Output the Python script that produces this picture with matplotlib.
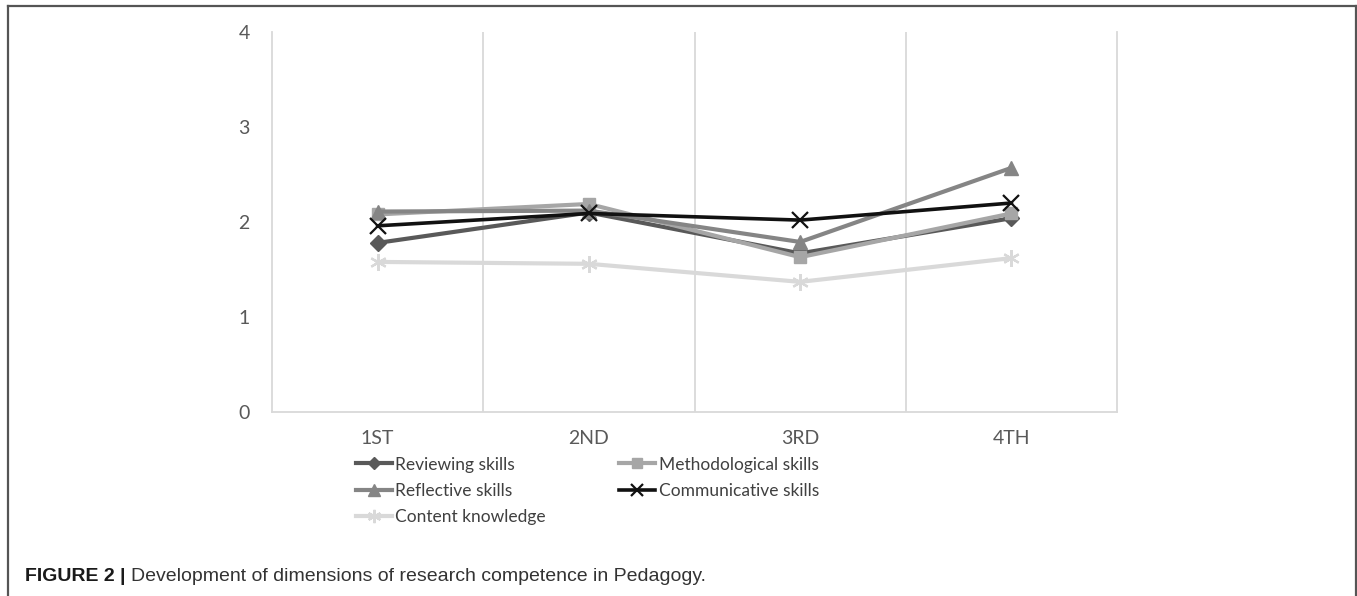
import matplotlib.pyplot as plt
from matplotlib.lines import Line2D

years = ["1ST", "2ND", "3RD", "4TH"]

reviewing = [1.78, 2.10, 1.67, 2.04]
methodological = [2.08, 2.19, 1.63, 2.09]
reflective = [2.11, 2.12, 1.79, 2.57]
communicative = [1.96, 2.09, 2.02, 2.20]
content = [1.58, 1.56, 1.37, 1.62]

series = [
    ("Reviewing skills", reviewing, "#595959", "D", 8, 3.0),
    ("Methodological skills", methodological, "#a6a6a6", "s", 9, 3.0),
    ("Reflective skills", reflective, "#858585", "^", 10, 3.0),
    ("Communicative skills", communicative, "#111111", "x", 11, 2.6),
    ("Content knowledge", content, "#d9d9d9", (6, 2, 0), 12, 3.0),
]

plt.rcParams["font.family"] = ["Lato", "DejaVu Sans"]

fig = plt.figure(figsize=(13.57, 5.96), dpi=100)
ax = fig.add_axes([0.2004, 0.3087, 0.6228, 0.6376])

x = range(len(years))
handles = {}
for name, vals, color, marker, ms, lw in series:
    mew = 1.6 if marker in ("x", (6, 2, 0)) else 1
    ln, = ax.plot(x, vals, color=color, lw=lw, marker=marker, ms=ms,
                  mew=mew, mec=color, mfc=color, solid_joinstyle="round")
    handles[name] = ln

ax.set_xlim(-0.5, len(years) - 0.5)
ax.set_ylim(0, 4)
ax.set_yticks([0, 1, 2, 3, 4])
ax.set_xticks(list(x))
ax.set_xticklabels(years)

# vertical separators between categories
for b in [0.5, 1.5, 2.5]:
    ax.axvline(b, color="#d9d9d9", lw=1.3, zorder=0)

for side in ["left", "right", "bottom"]:
    ax.spines[side].set_color("#d9d9d9")
    ax.spines[side].set_linewidth(1.3)
ax.spines["top"].set_visible(False)
ax.tick_params(length=0, labelsize=14, colors="#595959")
ax.tick_params(axis="y", pad=16)
ax.tick_params(axis="x", pad=13)

# legend laid out row-wise, two entries per row
order = ["Reviewing skills", "Reflective skills", "Content knowledge",
         "Methodological skills", "Communicative skills"]
leg = fig.legend([handles[n] for n in order], order, ncol=2,
                 loc="upper left", bbox_to_anchor=(0.262, 0.234),
                 frameon=False, fontsize=12.5, handlelength=2.1,
                 handletextpad=0.2, labelspacing=0.6, columnspacing=4.2,
                 markerscale=0.8, borderaxespad=0, borderpad=0)
for t in leg.get_texts():
    t.set_color("#404040")

# caption: bold label followed by plain text
lab = fig.text(0.0184, 0.025, "FIGURE 2 |", fontsize=14, fontweight="bold",
               family="Liberation Sans", color="#1a1a1a", va="baseline")
fig.canvas.draw()
bb = lab.get_window_extent().transformed(fig.transFigure.inverted())
fig.text(bb.x1 + 0.004, 0.025,
         "Development of dimensions of research competence in Pedagogy.",
         fontsize=14, family="Liberation Sans", color="#333333", va="baseline")

# outer frame (left, top, right)
frame = dict(color="#555555", lw=1.6, transform=fig.transFigure)
fig.add_artist(Line2D([0.006, 0.006], [0, 0.99], **frame))
fig.add_artist(Line2D([0.006, 0.9995], [0.99, 0.99], **frame))
fig.add_artist(Line2D([0.9995, 0.9995], [0, 0.99], **frame))

fig.savefig("out.png", dpi=100)
